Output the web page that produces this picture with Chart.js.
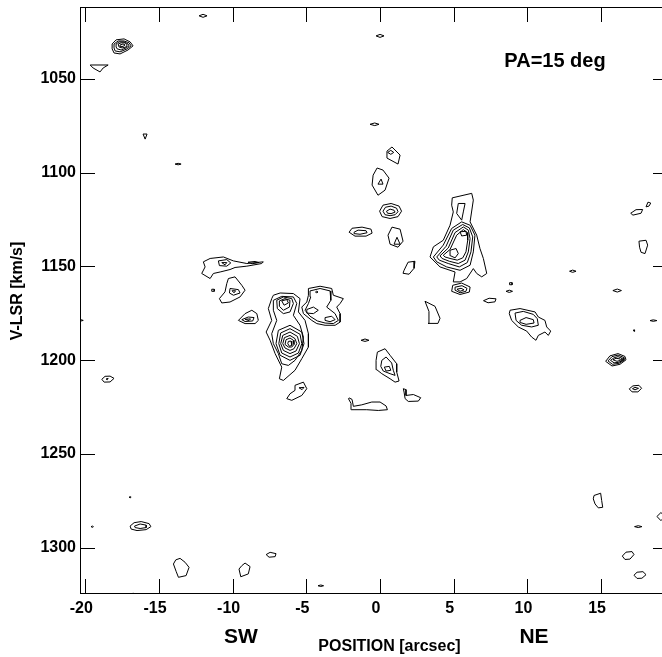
<!DOCTYPE html>
<html>
<head>
<meta charset="utf-8">
<script src="https://cdn.jsdelivr.net/npm/chart.js@4.4.1/dist/chart.umd.min.js"></script>
<style>
  html, body { margin: 0; padding: 0; background: #fff; overflow: hidden; }
  #wrap { width: 662px; height: 657px; overflow: hidden; }
</style>
</head>
<body>
<div id="wrap"><canvas id="pv" width="669" height="657"></canvas></div>
<script>
// Axes
const posTicks = [-20, -15, -10, -5, 0, 5, 10, 15];
const velTicks = [1050, 1100, 1150, 1200, 1250, 1300];
const posRange = [-20.36, 19.54];
const velRange = [1011.8, 1324.6];

// Contour loops, each point = [position arcsec, V-LSR km/s]
// far south-west knots (top left)
const farSwKnots = [
    [[-12.28,1016.5],[-12.01,1015.7],[-11.74,1016.5],[-12.01,1017.3]],
    [[-18.18,1031.5],[-17.91,1029.3],[-17.37,1028.8],[-16.96,1030.4],[-16.76,1032.5],[-17.10,1034.7],[-17.64,1036.8],[-18.05,1036.3],[-18.18,1034.1]],
    [[-18.05,1031.5],[-17.77,1029.9],[-17.37,1029.9],[-17.03,1030.9],[-16.89,1032.5],[-17.16,1034.1],[-17.64,1035.7],[-17.98,1035.2],[-18.05,1033.6]],
    [[-17.91,1031.5],[-17.71,1030.4],[-17.37,1030.4],[-17.10,1031.5],[-17.03,1032.5],[-17.23,1033.6],[-17.57,1034.7],[-17.84,1034.1],[-17.91,1033.1]],
    [[-17.77,1031.5],[-17.57,1030.9],[-17.30,1030.9],[-17.16,1032.0],[-17.23,1033.1],[-17.50,1033.6],[-17.71,1033.1]],
    [[-17.64,1032.0],[-17.44,1031.5],[-17.30,1032.0],[-17.44,1032.8],[-17.64,1032.8]],
    [[-19.67,1042.7],[-18.45,1042.7],[-18.79,1044.3],[-19.00,1046.4],[-19.47,1044.3]],
    [[-16.08,1079.5],[-15.81,1079.5],[-15.94,1082.2]],
    [[-13.91,1095.5],[-13.70,1095.1],[-13.50,1095.5],[-13.70,1095.9]]
];

// column of knots near position 0
const centralKnots = [
    [[-0.27,1027.2],[0.00,1026.4],[0.27,1027.2],[0.00,1028.0]],
    [[-0.68,1074.3],[-0.36,1073.6],[-0.07,1074.3],[-0.36,1075.0]],
    [[0.81,1086.4],[1.36,1090.7],[1.22,1095.5],[0.47,1092.3],[0.47,1088.6]],
    [[0.52,1089.3],[0.73,1088.2],[0.93,1089.3],[0.73,1090.3]],
    [[-0.20,1097.6],[0.20,1098.7],[0.61,1103.0],[0.34,1109.4],[-0.14,1112.1],[-0.54,1106.7],[-0.47,1101.4]],
    [[-0.14,1106.2],[0.07,1103.5],[0.20,1106.2]],
    [[-0.03,1120.6],[0.20,1117.4],[0.75,1116.5],[1.29,1117.9],[1.46,1120.6],[1.22,1123.5],[0.68,1124.5],[0.14,1123.5]],
    [[0.20,1120.6],[0.37,1118.5],[0.75,1117.9],[1.12,1119.0],[1.22,1120.9],[1.02,1122.5],[0.68,1123.0],[0.34,1122.5]],
    [[0.44,1120.6],[0.68,1119.5],[0.95,1120.1],[1.02,1121.1],[0.75,1121.9],[0.51,1121.7]],
    [[-2.10,1131.8],[-1.90,1129.7],[-1.22,1129.1],[-0.61,1130.2],[-0.54,1132.3],[-0.95,1133.9],[-1.70,1133.9]],
    [[-1.76,1131.8],[-1.49,1130.7],[-0.95,1131.0],[-0.88,1132.1],[-1.36,1132.9],[-1.70,1132.6]],
    [[0.81,1129.1],[1.36,1130.2],[1.56,1136.6],[1.22,1139.8],[0.68,1138.2],[0.54,1133.4]],
    [[1.15,1134.5],[1.36,1138.2],[0.95,1138.2]],
    [[1.63,1152.1],[1.90,1147.8],[2.37,1147.3],[2.31,1151.0],[1.97,1154.2],[1.56,1153.7]],
    [[-1.29,1189.4],[-1.02,1188.7],[-0.75,1189.4],[-1.02,1190.0]],
    [[-0.18,1195.7],[0.34,1193.9],[0.68,1197.4],[1.13,1201.9],[1.13,1206.3],[1.29,1211.1],[1.02,1211.7],[0.68,1209.9],[0.12,1207.2],[-0.22,1205.1],[-0.27,1200.1]],
    [[0.12,1200.1],[0.41,1198.3],[0.79,1201.5],[0.90,1205.4],[1.02,1208.1],[0.68,1207.2],[0.22,1205.8],[0.05,1203.3]],
    [[0.29,1203.7],[0.63,1203.3],[0.73,1205.4],[0.41,1205.8]],
    [[-2.10,1220.1],[-1.90,1220.9],[-1.81,1224.6],[-1.24,1223.8],[-0.56,1222.3],[0.00,1222.3],[0.41,1224.4],[0.50,1226.4],[-0.12,1226.8],[-0.90,1226.4],[-1.70,1226.4],[-1.92,1226.4],[-1.97,1223.0],[-2.14,1220.6]],
    [[1.58,1215.2],[1.76,1215.7],[1.76,1218.8],[2.26,1218.3],[2.76,1220.0],[2.60,1221.8],[1.92,1222.0],[1.70,1220.5],[1.63,1217.0]]
];

// north-east emission complex around +5 arcsec
const neComplex = [
    [[4.90,1113.5],[6.22,1111.1],[6.33,1114.7],[6.11,1126.3],[6.56,1133.4],[6.78,1140.5],[7.01,1145.8],[7.24,1153.8],[6.90,1155.6],[6.56,1153.8],[6.33,1151.2],[5.88,1156.5],[5.43,1158.3],[4.97,1158.3],[5.09,1153.0],[4.07,1150.3],[3.39,1145.0],[3.62,1139.6],[4.29,1136.1],[4.75,1128.1],[4.97,1121.0],[4.86,1117.4]],
    [[5.31,1116.5],[5.77,1116.5],[5.65,1121.0],[5.54,1125.4],[5.20,1121.8]],
    [[3.62,1145.0],[4.29,1138.7],[4.86,1129.8],[5.54,1126.3],[6.11,1128.1],[6.44,1133.4],[6.33,1142.3],[6.11,1149.4],[5.43,1152.1],[4.52,1150.3],[3.85,1147.6]],
    [[3.85,1145.0],[4.48,1139.3],[4.97,1130.7],[5.61,1127.7],[6.06,1129.5],[6.29,1134.3],[6.17,1142.3],[5.92,1148.0],[5.38,1150.3],[4.63,1148.5],[4.02,1146.7]],
    [[4.07,1144.4],[4.63,1140.2],[5.09,1132.0],[5.65,1129.0],[5.99,1130.7],[6.11,1135.2],[5.99,1142.3],[5.77,1146.7],[5.31,1148.5],[4.70,1147.3],[4.21,1145.8]],
    [[4.29,1144.1],[4.75,1141.0],[5.20,1133.4],[5.65,1130.4],[5.92,1132.0],[5.95,1136.1],[5.83,1142.3],[5.61,1145.5],[5.24,1146.7],[4.75,1145.8],[4.41,1145.0]],
    [[4.75,1141.4],[5.16,1140.5],[5.31,1143.2],[5.09,1145.5],[4.80,1144.4]],
    [[5.43,1131.6],[5.83,1131.3],[5.88,1133.4],[5.54,1133.8]],
    [[4.93,1160.1],[5.54,1158.9],[6.11,1161.0],[6.06,1163.7],[5.43,1165.0],[4.86,1163.3]],
    [[5.09,1161.1],[5.56,1160.3],[5.90,1161.7],[5.83,1163.3],[5.43,1164.1],[5.09,1162.7]],
    [[5.22,1162.2],[5.50,1161.7],[5.70,1162.5],[5.43,1163.3]],
    [[3.05,1168.6],[3.73,1171.3],[4.07,1177.7],[3.93,1180.4],[3.26,1180.4],[3.32,1174.0]],
    [[8.79,1158.7],[8.96,1158.7],[8.96,1159.8],[8.79,1159.8]],
    [[8.55,1163.3],[8.77,1162.7],[8.99,1163.3],[8.77,1163.9]],
    [[7.02,1168.3],[7.40,1167.0],[7.87,1167.3],[7.80,1168.9],[7.33,1169.4]],
    [[8.82,1173.4],[9.50,1172.5],[10.52,1174.3],[10.74,1177.0],[11.19,1178.8],[11.31,1182.3],[11.58,1184.5],[11.42,1186.8],[11.19,1185.0],[10.74,1186.8],[10.58,1189.4],[10.29,1187.7],[9.95,1184.5],[9.38,1182.3],[8.93,1178.8],[8.77,1175.2]],
    [[9.16,1174.9],[9.72,1174.0],[10.40,1175.6],[10.67,1177.9],[10.74,1181.4],[10.29,1182.3],[9.61,1181.4],[9.23,1178.8]],
    [[9.50,1178.8],[9.91,1177.3],[10.40,1178.4],[10.45,1180.2],[9.91,1180.9],[9.55,1180.0]]
];

// knots along the north-east edge
const farNeKnots = [
    [[17.01,1121.7],[17.37,1119.8],[17.82,1119.7],[17.71,1121.7],[17.16,1122.7]],
    [[18.05,1118.3],[18.18,1115.8],[18.37,1116.3],[18.25,1117.9]],
    [[17.57,1136.6],[18.05,1136.1],[18.16,1138.7],[17.98,1143.2],[17.71,1142.5],[17.61,1139.8]],
    [[12.86,1152.6],[13.07,1152.0],[13.30,1152.6],[13.07,1153.2]],
    [[15.80,1162.9],[16.10,1162.1],[16.38,1162.9],[16.10,1163.7]],
    [[17.17,1184.2],[17.24,1183.8],[17.30,1184.2],[17.24,1184.6]],
    [[18.32,1178.9],[18.54,1178.5],[18.79,1178.9],[18.54,1179.3]],
    [[15.31,1200.6],[15.60,1197.7],[16.15,1196.5],[16.62,1198.0],[16.69,1199.8],[16.28,1202.2],[15.74,1203.1]],
    [[15.47,1200.4],[15.74,1198.1],[16.15,1197.3],[16.52,1198.5],[16.55,1200.1],[16.21,1201.7],[15.77,1202.2]],
    [[15.64,1200.1],[15.88,1198.7],[16.15,1198.1],[16.42,1199.0],[16.42,1200.4],[16.15,1201.2],[15.88,1201.4]],
    [[15.81,1199.8],[16.01,1199.0],[16.28,1199.3],[16.32,1200.1],[16.08,1200.6]],
    [[16.91,1215.3],[17.16,1213.7],[17.57,1213.4],[17.75,1215.0],[17.50,1216.9],[17.10,1216.9]],
    [[17.13,1215.2],[17.30,1214.5],[17.54,1215.0],[17.30,1215.8]],
    [[14.52,1272.1],[14.97,1270.9],[15.04,1274.8],[15.11,1278.4],[14.81,1278.7],[14.59,1276.6],[14.47,1273.9]],
    [[17.27,1288.7],[17.52,1288.2],[17.77,1288.7],[17.52,1289.2]],
    [[18.79,1283.3],[19.06,1281.2],[19.34,1283.3],[19.06,1285.5]],
    [[16.44,1304.4],[16.69,1302.3],[17.10,1302.0],[17.23,1303.6],[16.96,1306.0],[16.62,1306.2]],
    [[17.23,1314.6],[17.44,1313.0],[17.84,1312.7],[18.05,1314.3],[17.77,1316.2],[17.44,1316.3]]
];

// south-west emission complex around -6 arcsec
const swComplex = [
    [[-11.99,1147.6],[-11.53,1145.8],[-10.63,1145.0],[-9.95,1147.1],[-9.04,1148.5],[-7.92,1147.6],[-8.03,1148.5],[-9.04,1149.9],[-9.84,1150.6],[-10.18,1151.7],[-10.85,1153.0],[-11.31,1153.8],[-11.53,1156.5],[-12.10,1153.8],[-11.87,1150.3]],
    [[-10.97,1147.1],[-10.40,1146.4],[-10.13,1148.2],[-10.40,1149.9],[-10.90,1149.6]],
    [[-10.74,1148.0],[-10.40,1148.0],[-10.52,1149.2]],
    [[-8.96,1147.8],[-8.48,1147.4],[-8.21,1148.0],[-8.68,1148.6]],
    [[-11.42,1162.2],[-11.25,1162.2],[-11.25,1163.3],[-11.42,1163.3]],
    [[-10.29,1156.5],[-9.84,1155.6],[-9.38,1160.1],[-9.16,1162.7],[-9.50,1166.3],[-10.18,1169.0],[-10.74,1169.5],[-10.90,1167.2],[-10.52,1163.6],[-10.40,1159.2]],
    [[-10.18,1161.8],[-9.61,1162.4],[-9.50,1164.2],[-9.95,1165.4],[-10.22,1164.2]],
    [[-10.04,1163.0],[-9.80,1163.0],[-9.91,1164.1]],
    [[-9.61,1178.8],[-9.16,1175.2],[-8.70,1173.4],[-8.36,1175.2],[-8.26,1178.8],[-8.48,1180.5],[-9.16,1180.5]],
    [[-9.38,1178.4],[-8.94,1177.0],[-8.55,1177.3],[-8.64,1179.1],[-9.16,1179.4]],
    [[-9.16,1178.2],[-8.79,1178.0],[-8.89,1178.9]],
    [[-7.24,1165.4],[-6.78,1164.2],[-5.88,1164.5],[-5.43,1167.2],[-5.54,1174.3],[-5.09,1178.8],[-4.86,1185.9],[-4.86,1193.0],[-5.31,1199.2],[-5.77,1205.4],[-6.56,1210.8],[-6.83,1209.9],[-6.67,1203.7],[-7.12,1196.5],[-7.46,1189.4],[-7.73,1185.0],[-7.35,1178.8],[-7.58,1172.5],[-7.35,1167.2]],
    [[-7.24,1168.1],[-6.67,1166.0],[-5.88,1166.3],[-5.65,1169.8],[-5.88,1176.1],[-5.43,1181.4],[-5.20,1187.7],[-5.31,1194.8],[-5.77,1200.1],[-6.22,1202.8],[-6.67,1201.9],[-6.90,1196.5],[-7.24,1191.2],[-7.35,1185.9],[-7.01,1178.8],[-7.24,1173.4]],
    [[-7.01,1168.1],[-6.56,1166.3],[-5.99,1167.2],[-5.88,1169.8],[-6.11,1174.3],[-6.56,1175.2],[-6.97,1172.5]],
    [[-6.83,1168.4],[-6.45,1167.2],[-6.11,1168.1],[-6.15,1171.7],[-6.56,1173.4],[-6.83,1171.3]],
    [[-6.67,1168.4],[-6.33,1167.7],[-6.22,1169.5],[-6.51,1170.7]],
    [[-6.90,1184.1],[-6.11,1181.4],[-5.31,1185.0],[-5.16,1191.2],[-5.43,1197.4],[-6.11,1200.1],[-6.78,1197.4],[-7.06,1191.2]],
    [[-6.74,1185.5],[-6.11,1183.2],[-5.43,1186.2],[-5.31,1191.2],[-5.54,1196.2],[-6.11,1198.3],[-6.67,1196.2],[-6.87,1191.2]],
    [[-6.60,1186.8],[-6.11,1185.0],[-5.61,1187.3],[-5.47,1191.2],[-5.70,1195.1],[-6.11,1196.5],[-6.56,1194.8],[-6.74,1191.2]],
    [[-6.49,1188.0],[-6.11,1186.8],[-5.77,1188.5],[-5.65,1191.2],[-5.84,1193.9],[-6.11,1194.8],[-6.45,1193.5],[-6.60,1191.2]],
    [[-6.38,1189.1],[-6.11,1188.2],[-5.88,1189.4],[-5.84,1191.6],[-5.99,1193.0],[-6.22,1193.0],[-6.45,1191.6]],
    [[-6.22,1190.0],[-6.04,1189.8],[-5.99,1192.1],[-6.15,1192.6],[-6.26,1191.2]],
    [[-4.86,1161.8],[-4.07,1160.6],[-3.28,1161.8],[-3.17,1165.4],[-2.49,1167.2],[-2.71,1169.8],[-2.94,1171.7],[-2.71,1175.2],[-2.71,1179.7],[-3.05,1181.4],[-3.73,1181.4],[-4.29,1180.5],[-4.63,1178.8],[-5.20,1175.2],[-5.31,1171.7],[-4.97,1169.0],[-4.86,1165.4]],
    [[-4.75,1163.1],[-4.07,1161.8],[-3.39,1163.1],[-3.34,1168.1],[-3.62,1171.7],[-3.05,1175.2],[-2.83,1178.8],[-3.17,1180.5],[-3.73,1180.2],[-4.25,1179.1],[-4.75,1176.6],[-5.09,1173.4],[-4.86,1169.8],[-4.70,1166.3]],
    [[-4.97,1173.0],[-4.52,1171.7],[-4.19,1173.4],[-4.52,1175.2],[-4.97,1174.9]],
    [[-3.73,1177.3],[-3.28,1176.6],[-3.05,1178.4],[-3.39,1179.5],[-3.73,1178.8]],
    [[-4.38,1163.7],[-4.29,1163.2],[-4.21,1163.7],[-4.29,1164.1]],
    [[-5.77,1213.4],[-5.20,1211.7],[-4.97,1215.2],[-5.31,1218.8],[-5.99,1221.4],[-6.33,1220.5],[-6.11,1217.9],[-5.77,1216.1]],
    [[-5.50,1214.7],[-5.16,1214.5],[-5.29,1215.7]],
    [[-20.60,1177.7],[-20.14,1178.8],[-20.60,1179.8]],
    [[-18.88,1210.2],[-18.66,1208.6],[-18.32,1208.5],[-18.05,1209.7],[-18.32,1211.6],[-18.72,1211.7]],
    [[-18.59,1210.0],[-18.45,1209.7],[-18.52,1210.5]]
];

// faint knots at high velocity (bottom)
const lowKnots = [
    [[-17.03,1273.0],[-16.96,1272.7],[-16.89,1273.0],[-16.96,1273.4]],
    [[-19.61,1288.7],[-19.52,1288.4],[-19.45,1288.7],[-19.52,1289.1]],
    [[-16.96,1288.4],[-16.69,1286.6],[-16.21,1286.0],[-15.67,1287.1],[-15.55,1288.7],[-15.87,1290.3],[-16.49,1290.8],[-16.89,1290.0]],
    [[-16.66,1288.4],[-16.28,1287.3],[-15.87,1287.9],[-15.87,1289.2],[-16.28,1289.7],[-16.62,1289.2]],
    [[-7.73,1303.6],[-7.46,1302.4],[-7.06,1303.1],[-7.12,1304.7],[-7.53,1305.0]],
    [[-13.86,1306.4],[-13.57,1305.6],[-13.23,1307.7],[-12.96,1310.4],[-13.16,1314.8],[-13.68,1315.7],[-13.84,1312.5],[-14.02,1308.6]],
    [[-9.16,1308.1],[-8.82,1310.0],[-8.94,1313.9],[-9.45,1315.4],[-9.57,1311.3],[-9.38,1309.5]],
    [[-4.21,1320.2],[-4.02,1319.8],[-3.83,1320.2],[-4.02,1320.6]],
    [[-17.03,1325.0],[-16.76,1324.2],[-16.42,1325.0],[-16.76,1325.8]]
];

const todosLosContornos = [].concat(farSwKnots, centralKnots, neComplex, farNeKnots, swComplex, lowKnots);

const FUENTE = '"Liberation Sans", Arial, Helvetica, sans-serif';

// Marco, marcas hacia dentro y textos
const marcoPlugin = {
    id: 'marco',
    afterDraw(chart) {
        const { ctx, chartArea: a, scales: { x, y } } = chart;
        ctx.save();
        ctx.strokeStyle = '#000';
        ctx.lineWidth = 1;
        ctx.strokeRect(a.left + 0.5, a.top + 0.5, a.right - a.left - 1, a.bottom - a.top - 1);
        ctx.beginPath();
        posTicks.forEach(v => {
            const px = Math.round(x.getPixelForValue(v)) + 0.5;
            ctx.moveTo(px, a.bottom); ctx.lineTo(px, a.bottom - 15);
            ctx.moveTo(px, a.top); ctx.lineTo(px, a.top + 15);
        });
        velTicks.forEach(v => {
            const py = Math.round(y.getPixelForValue(v)) + 0.5;
            ctx.moveTo(a.left, py); ctx.lineTo(a.left + 15, py);
            ctx.moveTo(a.right, py); ctx.lineTo(a.right - 15, py);
        });
        ctx.stroke();

        ctx.fillStyle = '#000';
        ctx.textAlign = 'center';
        ctx.textBaseline = 'alphabetic';
        ctx.font = 'bold 20px ' + FUENTE;
        ctx.fillText('PA=15 deg', 555, 66.5);
        ctx.font = 'bold 21px ' + FUENTE;
        ctx.fillText('SW', 241, 642.5);
        ctx.fillText('NE', 534, 642.5);
        ctx.font = 'bold 16px ' + FUENTE;
        ctx.fillText('POSITION [arcsec]', 389.5, 651);
        ctx.translate(21.5, 291);
        ctx.rotate(-Math.PI / 2);
        ctx.fillText('V-LSR [km/s]', 0, 0);
        ctx.restore();
    }
};

new Chart(document.getElementById('pv'), {
    type: 'scatter',
    data: {
        datasets: todosLosContornos.map(loop => ({
            data: loop.concat([loop[0]]).map(p => ({ x: p[0], y: p[1] })),
            showLine: true,
            borderColor: '#000',
            borderWidth: 1,
            pointRadius: 0,
            pointHoverRadius: 0,
            fill: false,
            tension: 0
        }))
    },
    options: {
        responsive: false,
        animation: false,
        layout: { padding: { top: 7, right: 1, left: 0, bottom: 0 } },
        plugins: { legend: { display: false }, tooltip: { enabled: false } },
        scales: {
            x: {
                type: 'linear',
                min: posRange[0],
                max: posRange[1],
                afterBuildTicks: s => { s.ticks = posTicks.map(v => ({ value: v })); },
                afterFit: s => { s.height = 63; s.paddingLeft = 0; s.paddingRight = 0; },
                grid: { display: false, drawTicks: false },
                border: { display: false },
                ticks: {
                    color: '#000', padding: 5, labelOffset: -4, maxRotation: 0, autoSkip: false,
                    font: { family: FUENTE, size: 16, weight: 'bold' },
                    callback: v => String(v)
                }
            },
            y: {
                type: 'linear',
                reverse: true,
                min: velRange[0],
                max: velRange[1],
                afterBuildTicks: s => { s.ticks = velTicks.map(v => ({ value: v })); },
                afterFit: s => { s.width = 80; s.paddingTop = 0; s.paddingBottom = 0; },
                grid: { display: false, drawTicks: false },
                border: { display: false },
                ticks: {
                    color: '#000', padding: 4, autoSkip: false,
                    font: { family: FUENTE, size: 16, weight: 'bold' },
                    callback: v => String(v)
                }
            }
        }
    },
    plugins: [marcoPlugin]
});
</script>
</body>
</html>
